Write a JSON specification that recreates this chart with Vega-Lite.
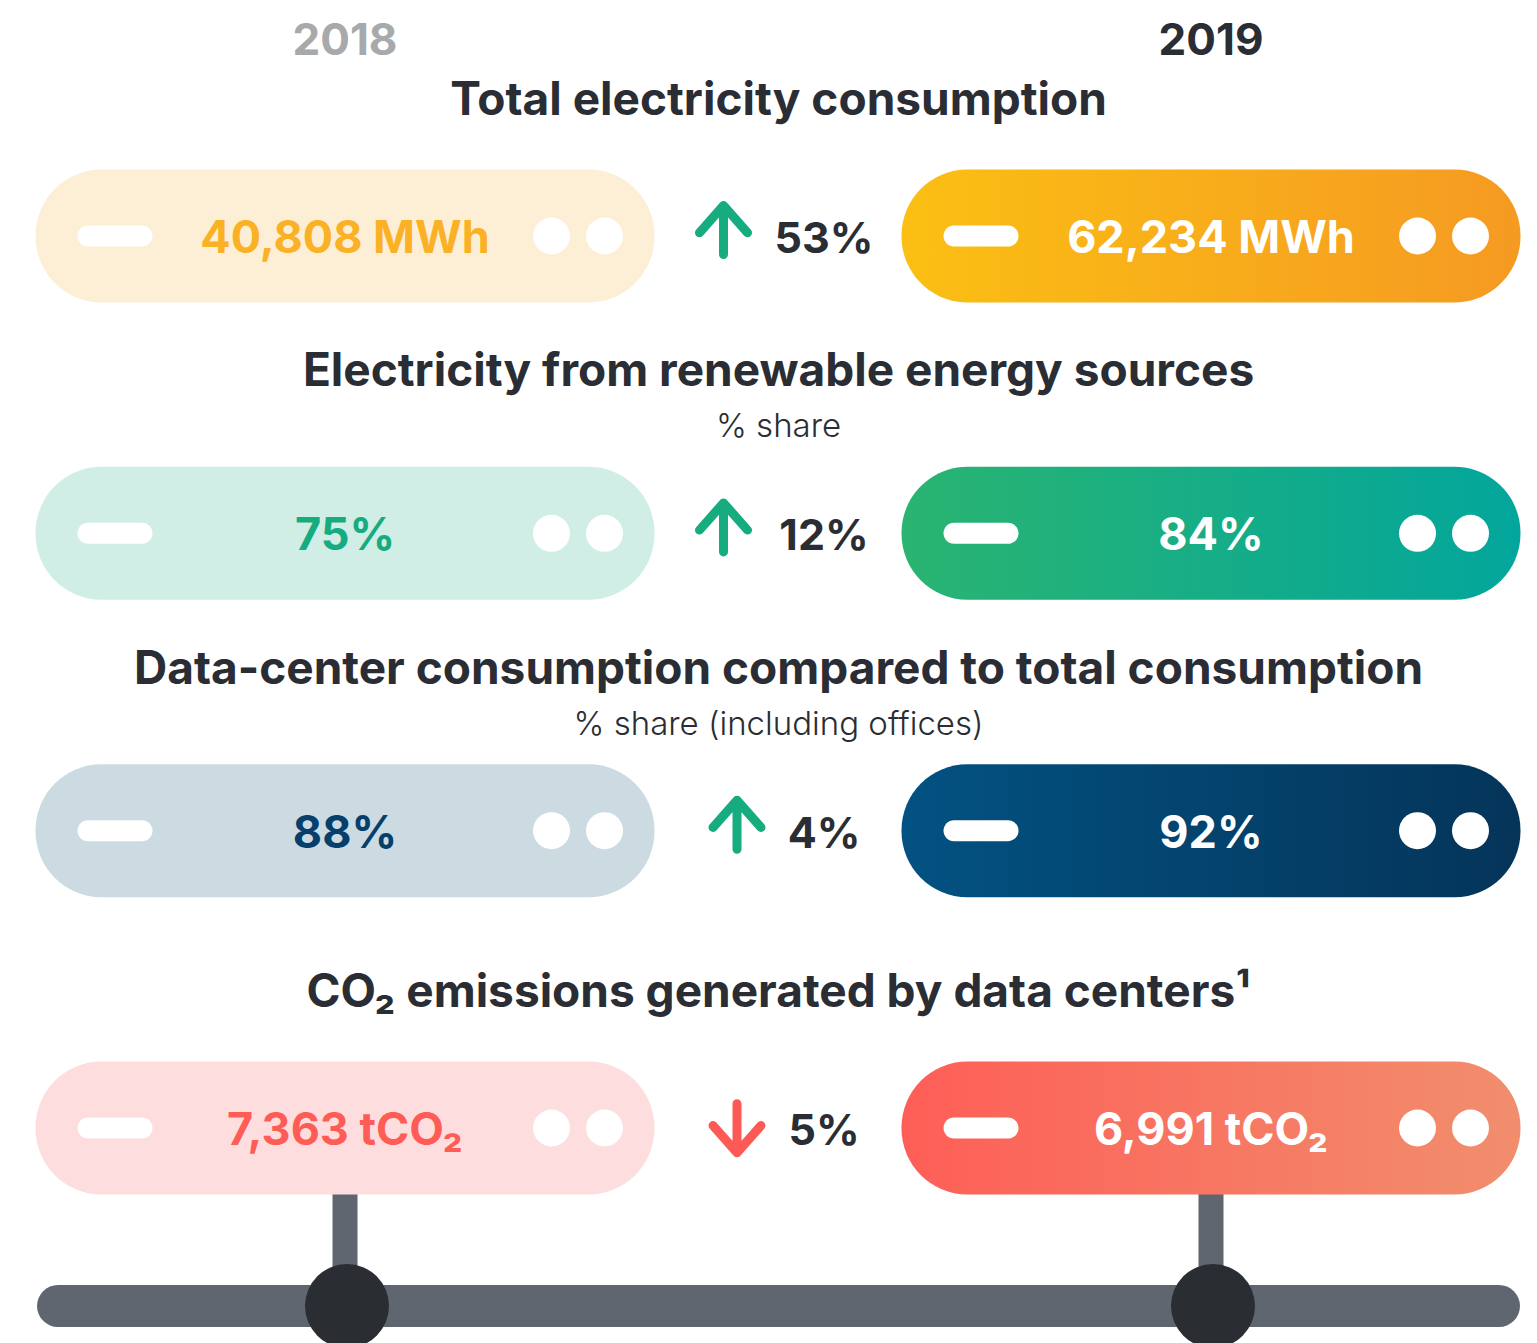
{
  "$schema": "https://vega.github.io/schema/vega-lite/v6.json",
  "width": 1441,
  "height": 1343,
  "autosize": "none",
  "padding": {"left": 58, "right": 38, "top": 0, "bottom": 0},
  "background": "#ffffff",
  "config": {"view": {"stroke": null}, "text": {"font": "Inter"}},
  "datasets": {
    "values": [
      {"metric": "consumption", "year": "2018", "label": "40,808 MWh"},
      {"metric": "consumption", "year": "2019", "label": "62,234 MWh"},
      {"metric": "renewable", "year": "2018", "label": "75%"},
      {"metric": "renewable", "year": "2019", "label": "84%"},
      {"metric": "datacenter", "year": "2018", "label": "88%"},
      {"metric": "datacenter", "year": "2019", "label": "92%"},
      {"metric": "co2", "year": "2018", "label": "7,363 tCO₂"},
      {"metric": "co2", "year": "2019", "label": "6,991 tCO₂"}
    ],
    "changes": [
      {"metric": "consumption", "period": "2018–2019", "change": "53%", "direction": "up"},
      {"metric": "renewable", "period": "2018–2019", "change": "12%", "direction": "up"},
      {"metric": "datacenter", "period": "2018–2019", "change": "4%", "direction": "up"},
      {"metric": "co2", "period": "2018–2019", "change": "5%", "direction": "down"}
    ],
    "titles": [
      {"metric": "consumption", "title": "Total electricity consumption", "subtitle": ""},
      {"metric": "renewable", "title": "Electricity from renewable energy sources", "subtitle": "% share"},
      {"metric": "datacenter", "title": "Data-center consumption compared to total consumption", "subtitle": "% share (including offices)"},
      {"metric": "co2", "title": "CO₂ emissions generated by data centers¹", "subtitle": ""}
    ]
  },
  "layer": [
    {
      "data": {"name": "values"},
      "transform": [{"filter": "datum.metric === 'co2' && datum.year === '2018'"}],
      "mark": {"type": "rule", "strokeWidth": 42, "strokeCap": "round", "color": "#5f6670", "yOffset": 178},
      "encoding": {
        "y": {"field": "metric", "type": "nominal", "scale": {"type": "point", "padding": 0, "domain": ["consumption", "renewable", "datacenter", "co2"], "range": [236, 1128]}, "axis": null}
      }
    },
    {
      "data": {"name": "values"},
      "transform": [{"filter": "datum.metric === 'co2'"}],
      "mark": {"type": "rect", "width": 25, "height": 118, "yOffset": 122, "color": "#5f6670"},
      "encoding": {
        "x": {"field": "year", "type": "nominal", "scale": {"type": "point", "padding": 0, "domain": ["2018", "2018–2019", "2019"], "range": [287, 1153]}, "axis": null},
        "y": {"field": "metric", "type": "nominal", "axis": null}
      }
    },
    {
      "data": {"name": "values"},
      "transform": [{"filter": "datum.metric === 'co2'"}],
      "mark": {"type": "point", "shape": "circle", "filled": true, "opacity": 1, "size": 7056, "strokeWidth": 0, "color": "#2a2d31", "yOffset": 178, "xOffset": 2},
      "encoding": {
        "x": {"field": "year", "type": "nominal", "axis": null},
        "y": {"field": "metric", "type": "nominal", "axis": null}
      }
    },
    {
      "data": {"name": "values"},
      "transform": [{"filter": "datum.year === '2018'"}],
      "mark": {"type": "rect", "width": 619, "height": 133, "cornerRadius": 66},
      "encoding": {
        "x": {"field": "year", "type": "nominal", "axis": null},
        "y": {"field": "metric", "type": "nominal", "axis": null},
        "fill": {
          "condition": [
            {"test": "datum.metric === 'consumption'", "value": "#fdefd6"},
            {"test": "datum.metric === 'renewable'", "value": "#d0eee6"},
            {"test": "datum.metric === 'datacenter'", "value": "#ccdbe2"}
          ],
          "value": "#feddde"
        }
      }
    },
    {
      "data": {"name": "values"},
      "transform": [{"filter": "datum.year === '2019' && datum.metric === 'consumption'"}],
      "mark": {"type": "rect", "width": 619, "height": 133, "cornerRadius": 66,
        "fill": {"gradient": "linear", "x1": 0, "y1": 0, "x2": 1, "y2": 0, "stops": [{"offset": 0, "color": "#fbbf13"}, {"offset": 1, "color": "#f59a22"}]}},
      "encoding": {
        "x": {"field": "year", "type": "nominal", "axis": null},
        "y": {"field": "metric", "type": "nominal", "axis": null}
      }
    },
    {
      "data": {"name": "values"},
      "transform": [{"filter": "datum.year === '2019' && datum.metric === 'renewable'"}],
      "mark": {"type": "rect", "width": 619, "height": 133, "cornerRadius": 66,
        "fill": {"gradient": "linear", "x1": 0, "y1": 0, "x2": 1, "y2": 0, "stops": [{"offset": 0, "color": "#2ab471"}, {"offset": 1, "color": "#03a69c"}]}},
      "encoding": {
        "x": {"field": "year", "type": "nominal", "axis": null},
        "y": {"field": "metric", "type": "nominal", "axis": null}
      }
    },
    {
      "data": {"name": "values"},
      "transform": [{"filter": "datum.year === '2019' && datum.metric === 'datacenter'"}],
      "mark": {"type": "rect", "width": 619, "height": 133, "cornerRadius": 66,
        "fill": {"gradient": "linear", "x1": 0, "y1": 0, "x2": 1, "y2": 0, "stops": [{"offset": 0, "color": "#025282"}, {"offset": 1, "color": "#053459"}]}},
      "encoding": {
        "x": {"field": "year", "type": "nominal", "axis": null},
        "y": {"field": "metric", "type": "nominal", "axis": null}
      }
    },
    {
      "data": {"name": "values"},
      "transform": [{"filter": "datum.year === '2019' && datum.metric === 'co2'"}],
      "mark": {"type": "rect", "width": 619, "height": 133, "cornerRadius": 66,
        "fill": {"gradient": "linear", "x1": 0, "y1": 0, "x2": 1, "y2": 0, "stops": [{"offset": 0, "color": "#fe5e57"}, {"offset": 1, "color": "#f18e6d"}]}},
      "encoding": {
        "x": {"field": "year", "type": "nominal", "axis": null},
        "y": {"field": "metric", "type": "nominal", "axis": null}
      }
    },
    {
      "data": {"name": "values"},
      "mark": {"type": "rect", "width": 75, "height": 21, "cornerRadius": 10.5, "xOffset": -230, "color": "#ffffff"},
      "encoding": {
        "x": {"field": "year", "type": "nominal", "axis": null},
        "y": {"field": "metric", "type": "nominal", "axis": null}
      }
    },
    {
      "data": {"name": "values"},
      "mark": {"type": "point", "shape": "circle", "filled": true, "opacity": 1, "size": 1369, "strokeWidth": 0, "color": "#ffffff", "xOffset": 206.5},
      "encoding": {
        "x": {"field": "year", "type": "nominal", "axis": null},
        "y": {"field": "metric", "type": "nominal", "axis": null}
      }
    },
    {
      "data": {"name": "values"},
      "mark": {"type": "point", "shape": "circle", "filled": true, "opacity": 1, "size": 1369, "strokeWidth": 0, "color": "#ffffff", "xOffset": 259.5},
      "encoding": {
        "x": {"field": "year", "type": "nominal", "axis": null},
        "y": {"field": "metric", "type": "nominal", "axis": null}
      }
    },
    {
      "data": {"name": "values"},
      "mark": {"type": "text", "fontSize": 45, "fontWeight": "bold", "baseline": "alphabetic", "align": "center", "yOffset": 17},
      "encoding": {
        "x": {"field": "year", "type": "nominal", "axis": null},
        "y": {"field": "metric", "type": "nominal", "axis": null},
        "text": {"field": "label"},
        "fill": {
          "condition": [
            {"test": "datum.year === '2019'", "value": "#ffffff"},
            {"test": "datum.metric === 'consumption'", "value": "#fbb125"},
            {"test": "datum.metric === 'renewable'", "value": "#17ab80"},
            {"test": "datum.metric === 'datacenter'", "value": "#063f6b"}
          ],
          "value": "#fe5d57"
        }
      }
    },
    {
      "data": {"name": "changes"},
      "transform": [{"filter": "length(datum.change) > 2"}],
      "mark": {"type": "point", "filled": false, "opacity": 1, "size": 2450, "strokeWidth": 9, "strokeCap": "round", "strokeJoin": "round", "xOffset": -54.5},
      "encoding": {
        "x": {"field": "period", "type": "nominal", "axis": null},
        "y": {"field": "metric", "type": "nominal", "axis": null},
        "shape": {"field": "direction", "type": "nominal", "legend": null, "scale": {"domain": ["up", "down"], "range": ["M0,0.75L0,-1.23M-0.97,-0.13L0,-1.23L0.97,-0.13", "M0,-0.98L0,1M-0.97,-0.1L0,1L0.97,-0.1"]}},
        "stroke": {"condition": {"test": "datum.direction === 'down'", "value": "#fd5a55"}, "value": "#17ab80"}
      }
    },
    {
      "data": {"name": "changes"},
      "transform": [{"filter": "length(datum.change) <= 2"}],
      "mark": {"type": "point", "filled": false, "opacity": 1, "size": 2450, "strokeWidth": 9, "strokeCap": "round", "strokeJoin": "round", "xOffset": -41},
      "encoding": {
        "x": {"field": "period", "type": "nominal", "axis": null},
        "y": {"field": "metric", "type": "nominal", "axis": null},
        "shape": {"field": "direction", "type": "nominal", "legend": null},
        "stroke": {"condition": {"test": "datum.direction === 'down'", "value": "#fd5a55"}, "value": "#17ab80"}
      }
    },
    {
      "data": {"name": "changes"},
      "mark": {"type": "text", "fontSize": 43, "fontWeight": "bold", "baseline": "alphabetic", "align": "center", "yOffset": 17, "xOffset": 46, "color": "#2a2d33"},
      "encoding": {
        "x": {"field": "period", "type": "nominal", "axis": null},
        "y": {"field": "metric", "type": "nominal", "axis": null},
        "text": {"field": "change"}
      }
    },
    {
      "data": {"name": "titles"},
      "transform": [{"filter": "datum.subtitle === ''"}],
      "mark": {"type": "text", "fontSize": 46, "fontWeight": "bold", "baseline": "alphabetic", "align": "center", "yOffset": -121, "color": "#2a2d33"},
      "encoding": {
        "y": {"field": "metric", "type": "nominal", "axis": null},
        "text": {"field": "title"}
      }
    },
    {
      "data": {"name": "titles"},
      "transform": [{"filter": "datum.subtitle !== ''"}],
      "mark": {"type": "text", "fontSize": 46, "fontWeight": "bold", "baseline": "alphabetic", "align": "center", "yOffset": -147, "color": "#2a2d33"},
      "encoding": {
        "y": {"field": "metric", "type": "nominal", "axis": null},
        "text": {"field": "title"}
      }
    },
    {
      "data": {"name": "titles"},
      "transform": [{"filter": "datum.subtitle !== ''"}],
      "mark": {"type": "text", "fontSize": 33, "fontWeight": 300, "baseline": "alphabetic", "align": "center", "yOffset": -96, "color": "#2a2d33"},
      "encoding": {
        "y": {"field": "metric", "type": "nominal", "axis": null},
        "text": {"field": "subtitle"}
      }
    },
    {
      "data": {"name": "values"},
      "transform": [{"filter": "datum.metric === 'consumption'"}],
      "mark": {"type": "text", "fontSize": 44, "fontWeight": "bold", "baseline": "alphabetic", "align": "center", "yOffset": -181},
      "encoding": {
        "x": {"field": "year", "type": "nominal", "axis": null},
        "y": {"field": "metric", "type": "nominal", "axis": null},
        "text": {"field": "year"},
        "fill": {"condition": {"test": "datum.year === '2018'", "value": "#a8a9ab"}, "value": "#2a2d33"}
      }
    }
  ]
}
